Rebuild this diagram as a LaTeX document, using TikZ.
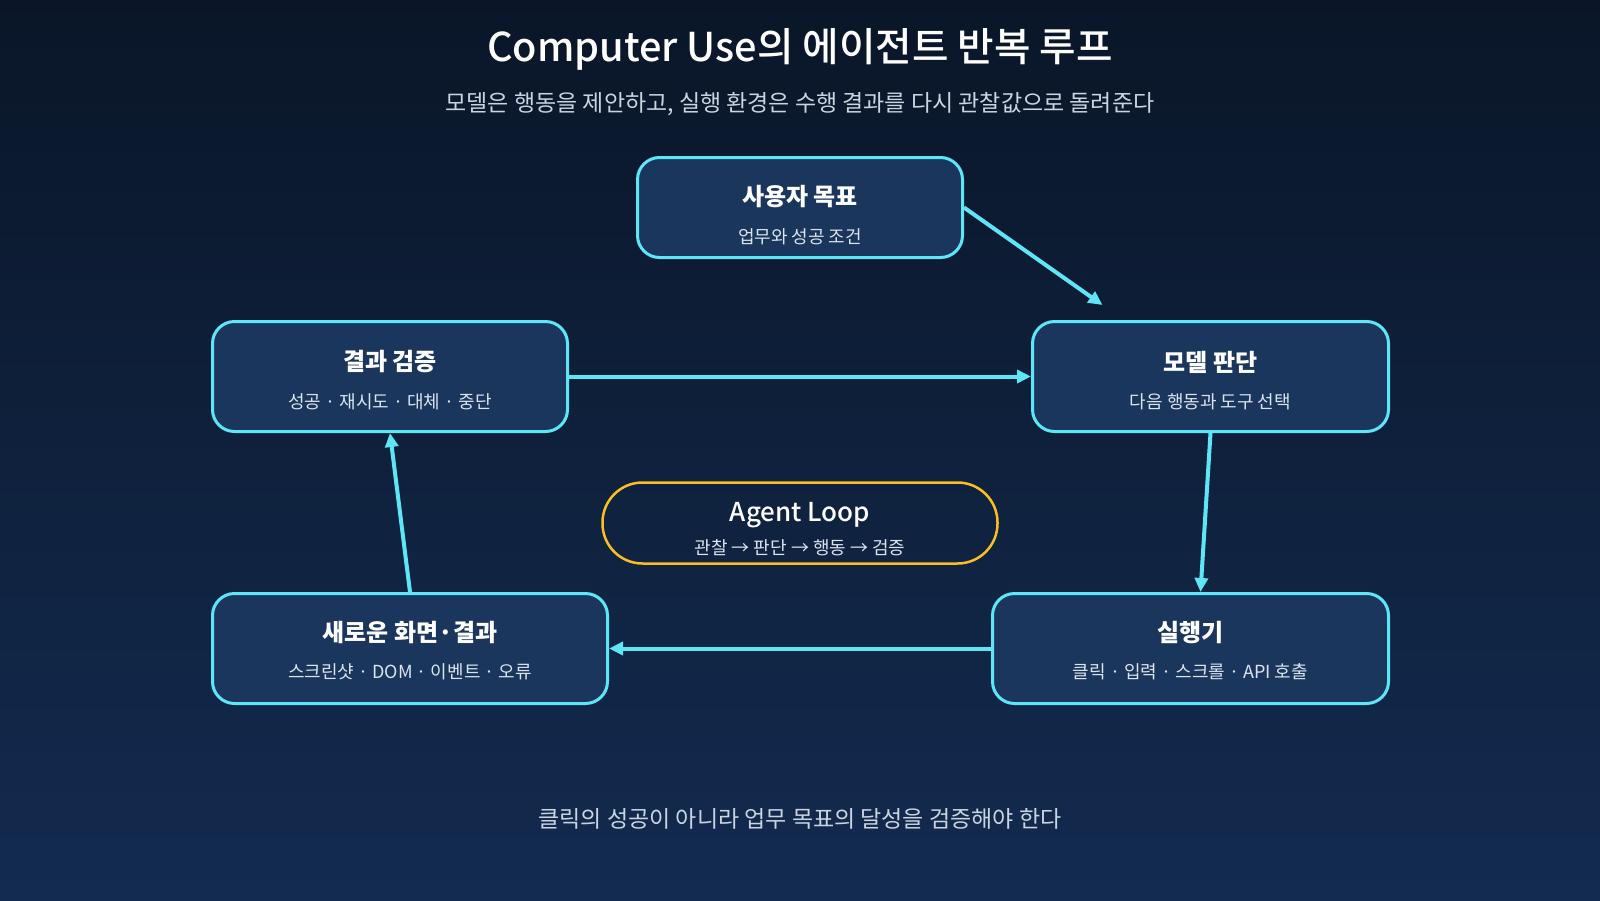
\documentclass[tikz,border=0pt]{standalone}
\usepackage{fontspec}
\setmainfont{Noto Sans CJK KR}
\newfontfamily\medfont{Noto Sans CJK KR Medium}
\usetikzlibrary{arrows.meta}
\definecolor{bgtop}{HTML}{0A1628}
\definecolor{bgbot}{HTML}{132B50}
\definecolor{boxfill}{HTML}{1A365D}
\definecolor{cyanline}{HTML}{5EE6F7}
\definecolor{amberline}{HTML}{FBBF24}
\definecolor{subtext}{HTML}{CBD5E1}
\definecolor{notetext}{HTML}{DCE4EE}
\begin{document}
\begin{tikzpicture}[x=1pt,y=-1pt,
  box/.style={draw=cyanline, line width=3pt, fill=boxfill, rounded corners=22pt, inner sep=0pt, minimum height=110pt},
  head/.style={text=white, font=\fontsize{24}{28}\selectfont\bfseries},
  note/.style={text=notetext, font=\fontsize{18}{21}\selectfont},
  flow/.style={draw=cyanline, line width=4pt, -{Triangle[length=14pt,width=13pt]}}]
\shade[top color=bgtop, bottom color=bgbot] (0,0) rectangle (1600,900);
\node[text=white, font=\fontsize{39.7}{44}\medfont] (title) at (800,49){Computer Use의 에이전트 반복 루프};
\node[text=subtext, font=\fontsize{23}{26}\selectfont] (subtitle) at (800,104){모델은 행동을 제안하고, 실행 환경은 수행 결과를 다시 관찰값으로 돌려준다};
% boxes
\node[box, minimum width=325pt, minimum height=100pt] (goal) at (800,207.5){};
\node[head] (goalt) at (800,197){사용자 목표};
\node[note] (goals) at (800,237){업무와 성공 조건};
\node[box, minimum width=355pt] (verify) at (390,376.5){};
\node[head] (verifyt) at (390,362){결과 검증};
\node[note] (verifys) at (390,402){성공 · 재시도 · 대체 · 중단};
\node[box, minimum width=356pt] (model) at (1210.5,376.5){};
\node[head] (modelt) at (1210.5,362){모델 판단};
\node[note] (models) at (1210.5,402){다음 행동과 도구 선택};
\node[box, minimum width=395pt] (screen) at (410,648.5){};
\node[head] (screent) at (410,633){새로운 화면·결과};
\node[note] (screens) at (410,672){스크린샷 · DOM · 이벤트 · 오류};
\node[box, minimum width=396pt] (exec) at (1190.5,648.5){};
\node[head] (exect) at (1190.5,633){실행기};
\node[note] (execs) at (1190.5,672){클릭 · 입력 · 스크롤 · API 호출};
\node[draw=amberline, line width=2.5pt, rounded corners=40pt, minimum width=395pt, minimum height=81pt] (loop) at (800,523){};
\node[text=white, font=\fontsize{26}{30}\medfont] (loopt) at (800,515){Agent Loop};
\node[note] (loops) at (800,548){관찰 → 판단 → 행동 → 검증};
% arrows
\draw[flow](goal.east) -- ([xshift=-108pt,yshift=15pt]model.north);
\draw[flow](verify.east) -- (model.west);
\draw[flow](model.south) -- ([xshift=10pt]exec.north);
\draw[flow](exec.west) -- (screen.east);
\draw[flow](screen.north) -- (verify.south);
\node[text=subtext, font=\fontsize{23}{26}\selectfont] (footer) at (800,819){클릭의 성공이 아니라 업무 목표의 달성을 검증해야 한다};
\end{tikzpicture}
\end{document}
